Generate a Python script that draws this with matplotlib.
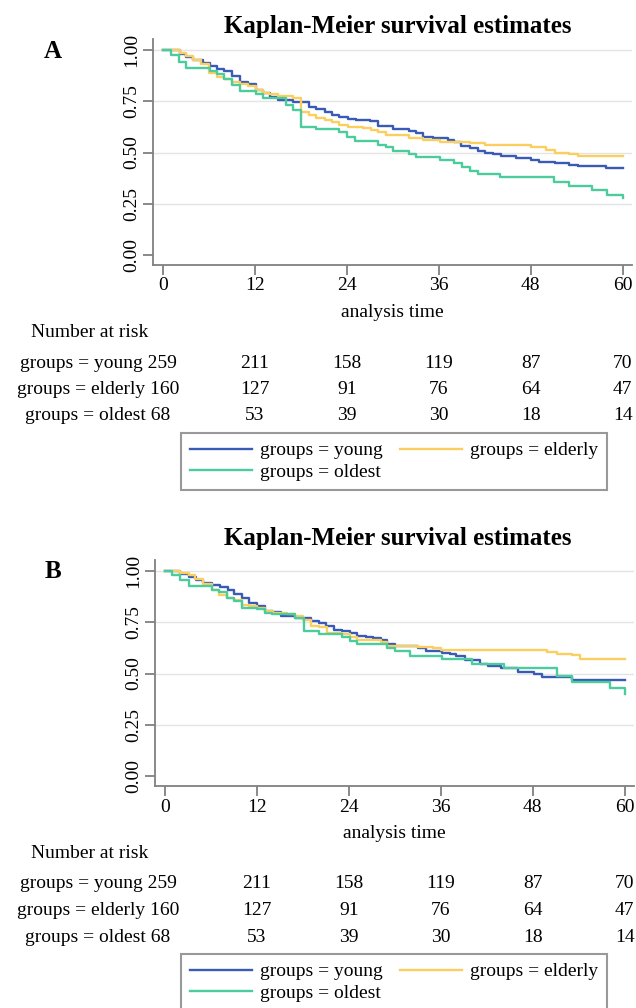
import matplotlib
matplotlib.use('Agg')
import matplotlib.pyplot as plt
import matplotlib.transforms as mtransforms
from matplotlib.lines import Line2D

plt.rcParams['font.family'] = ['Liberation Serif', 'DejaVu Serif']

# ---- data ----
group_names = ['young', 'elderly', 'oldest']
group_colors = ['#3a5bb5', '#fbcf5f', '#4ccc9c']
risk_times = [0, 12, 24, 36, 48, 60]
risk_young = [259, 211, 158, 119, 87, 70]
risk_elderly = [160, 127, 91, 76, 64, 47]
risk_oldest = [68, 53, 39, 30, 18, 14]

# panel A
a_young_t = [0, 2.2, 3.0, 3.9, 5.2, 6.1, 7.0, 8.0, 9.0, 10.1, 11.1, 12.1, 13.0, 14.0, 15.0, 17.0, 19.0, 20.0,
             21.1, 22.1, 23.0, 24.1, 25.2, 27.0, 28.0, 30.0, 32.1, 33.0, 33.9, 35.2, 37.2, 38.0, 38.9, 40.0,
             41.1, 42.0, 43.0, 44.1, 46.1, 48.0, 49.1, 51.1, 53.0, 54.1, 57.8, 60.0]
a_young_s = [1.0, .98, .967, .954, .938, .922, .906, .899, .875, .846, .833, .805, .792, .772, .755, .748, .724,
             .714, .699, .683, .672, .665, .659, .652, .631, .613, .603, .593, .577, .569, .561, .55, .533, .524,
             .509, .50, .491, .484, .472, .463, .452, .447, .439, .434, .424, .424]
a_elderly_t = [0, 2.2, 3.0, 3.9, 5.0, 6.0, 7.0, 8.0, 9.0, 10.0, 11.1, 12.1, 13.0, 13.9, 15.0, 17.0, 18.0, 19.0,
               20.0, 21.1, 22.1, 23.0, 24.1, 26.1, 27.2, 28.0, 29.1, 32.1, 33.9, 36.1, 40.0, 42.0, 48.0, 50.0,
               51.1, 53.0, 54.1, 60.0]
a_elderly_s = [1.0, .987, .97, .954, .935, .889, .87, .857, .846, .837, .824, .808, .792, .784, .776, .767, .699,
               .683, .667, .659, .65, .634, .626, .618, .61, .598, .585, .572, .561, .55, .545, .537, .525, .512,
               .50, .493, .481, .481]
a_oldest_t = [0, 1.1, 2.1, 3.0, 6.1, 7.0, 8.0, 9.0, 10.1, 12.1, 13.0, 16.1, 17.0, 18.0, 20.0, 23.0, 24.0, 25.0,
              28.0, 29.1, 30.0, 32.1, 33.0, 36.1, 38.0, 39.0, 40.1, 41.1, 44.0, 51.0, 53.0, 56.0, 58.0, 60.0]
a_oldest_s = [1.0, .976, .943, .915, .90, .886, .857, .83, .80, .785, .767, .733, .708, .626, .613, .60, .576,
              .557, .537, .525, .509, .493, .476, .463, .447, .431, .41, .393, .379, .354, .338, .317, .293, .276]

# panel B
b_young_t = [0, 2.0, 3.1, 4.1, 5.0, 6.1, 7.2, 8.2, 9.0, 10.0, 11.0, 12.0, 13.1, 14.1, 15.1, 17.0, 19.0, 20.1,
             21.0, 22.0, 23.1, 24.1, 25.1, 26.2, 27.2, 28.2, 29.0, 30.0, 33.0, 34.0, 36.1, 37.2, 38.0, 39.1,
             41.1, 42.1, 43.9, 46.1, 48.2, 49.2, 53.1, 60.0]
b_young_s = [1.0, .985, .97, .959, .943, .935, .922, .91, .889, .87, .846, .829, .805, .80, .78, .772, .756, .748,
             .732, .715, .707, .699, .683, .678, .675, .664, .646, .634, .623, .61, .602, .593, .585, .564, .548,
             .535, .528, .509, .499, .485, .467, .467]
b_elderly_t = [0, 2.0, 3.1, 3.9, 5.0, 6.1, 7.0, 8.1, 9.0, 10.0, 11.0, 12.0, 13.1, 14.1, 15.9, 17.0, 18.0, 19.0,
               20.1, 21.1, 23.1, 24.1, 25.1, 28.2, 29.0, 33.0, 35.0, 36.0, 49.8, 51.2, 53.1, 54.1, 60.0]
b_elderly_s = [1.0, .99, .98, .964, .938, .91, .886, .87, .857, .837, .829, .821, .805, .797, .79, .78, .764,
               .732, .727, .70, .694, .678, .662, .655, .634, .63, .623, .615, .605, .593, .589, .573, .573]
b_oldest_t = [0, 0.9, 2.0, 3.1, 6.1, 7.0, 8.1, 9.0, 10.0, 12.0, 13.1, 14.0, 17.0, 18.1, 20.1, 23.1, 24.1, 25.1,
              29.0, 30.0, 32.0, 36.1, 40.0, 44.2, 51.2, 53.1, 58.1, 60.0]
b_oldest_s = [1.0, .98, .959, .927, .91, .90, .87, .854, .818, .813, .797, .789, .772, .707, .691, .68, .659,
              .642, .623, .61, .585, .569, .545, .525, .488, .46, .431, .402]

W, H = 636, 1008
fig = plt.figure(figsize=(W / 100, H / 100), dpi=100)
GRAY = '#808080'
FS = 14


def fy(py):
    return 1 - py / H


def panel(letter, left, top, title_y, letter_y, curves):
    bottom = top + 226
    ax = fig.add_axes([left / W, fy(bottom), 479 / W, 226 / H])
    for (t, s), c in zip(curves, group_colors):
        ax.step(t, s, where='post', color=c, lw=1.7)
    ax.set_xlim(-1.3, 61.2)
    ax.set_ylim(-0.05, 1.055)
    ax.set_xticks(risk_times)
    ax.set_yticks([0, 0.25, 0.5, 0.75, 1.0])
    ax.set_yticklabels(['0.00', '0.25', '0.50', '0.75', '1.00'], rotation=90, va='center')
    for yv in [0.25, 0.5, 0.75, 1.0]:
        ax.axhline(yv, color='#e4e4e4', lw=1.0, zorder=0)
    for sp in ['top', 'right']:
        ax.spines[sp].set_visible(False)
    for sp in ['left', 'bottom']:
        ax.spines[sp].set_color(GRAY)
        ax.spines[sp].set_linewidth(1.3)
    ax.tick_params(colors=GRAY, labelcolor='black', labelsize=FS, length=7, width=1.3, pad=2)
    ax.set_xlabel('analysis time', fontsize=FS, labelpad=7)
    fig.text(398 / W, fy(title_y), 'Kaplan-Meier survival estimates', fontsize=18,
             fontweight='bold', ha='center', va='center')
    fig.text(53 / W, fy(letter_y), letter, fontsize=18, fontweight='bold', ha='center', va='center')

    # number at risk table
    tr = mtransforms.blended_transform_factory(ax.transData, fig.transFigure)
    fig.text(90 / W, fy(bottom + 68), 'Number at risk', fontsize=FS, ha='center', va='center')
    rows = [risk_young, risk_elderly, risk_oldest]
    for i, (name, row) in enumerate(zip(group_names, rows)):
        yy = fy(bottom + 98 + 26.5 * i)
        fig.text(98 / W, yy, f'groups = {name} {row[0]}', fontsize=FS, ha='center', va='center')
        for tt, n in zip(risk_times[1:], row[1:]):
            fig.text(tt, yy, str(n), transform=tr, fontsize=FS, ha='center', va='center')

    handles = [Line2D([], [], color=c, lw=1.7) for c in group_colors]
    labels = [f'groups = {n}' for n in group_names]
    order = [0, 2, 1]
    leg = fig.legend([handles[k] for k in order], [labels[k] for k in order], loc='upper left',
                     bbox_to_anchor=(181 / W, fy(bottom + 168)), ncol=2, fontsize=FS, frameon=True,
                     fancybox=False, edgecolor=GRAY, handlelength=3.2, handletextpad=0.4,
                     columnspacing=0.9, borderaxespad=0, borderpad=0.45, labelspacing=0.2)
    leg.get_frame().set_linewidth(1.5)
    return ax


panel('A', 153, 39, 26, 52, [(a_young_t, a_young_s), (a_elderly_t, a_elderly_s), (a_oldest_t, a_oldest_s)])
panel('B', 155, 560, 539, 571, [(b_young_t, b_young_s), (b_elderly_t, b_elderly_s), (b_oldest_t, b_oldest_s)])

fig.savefig('out.png', dpi=100)
